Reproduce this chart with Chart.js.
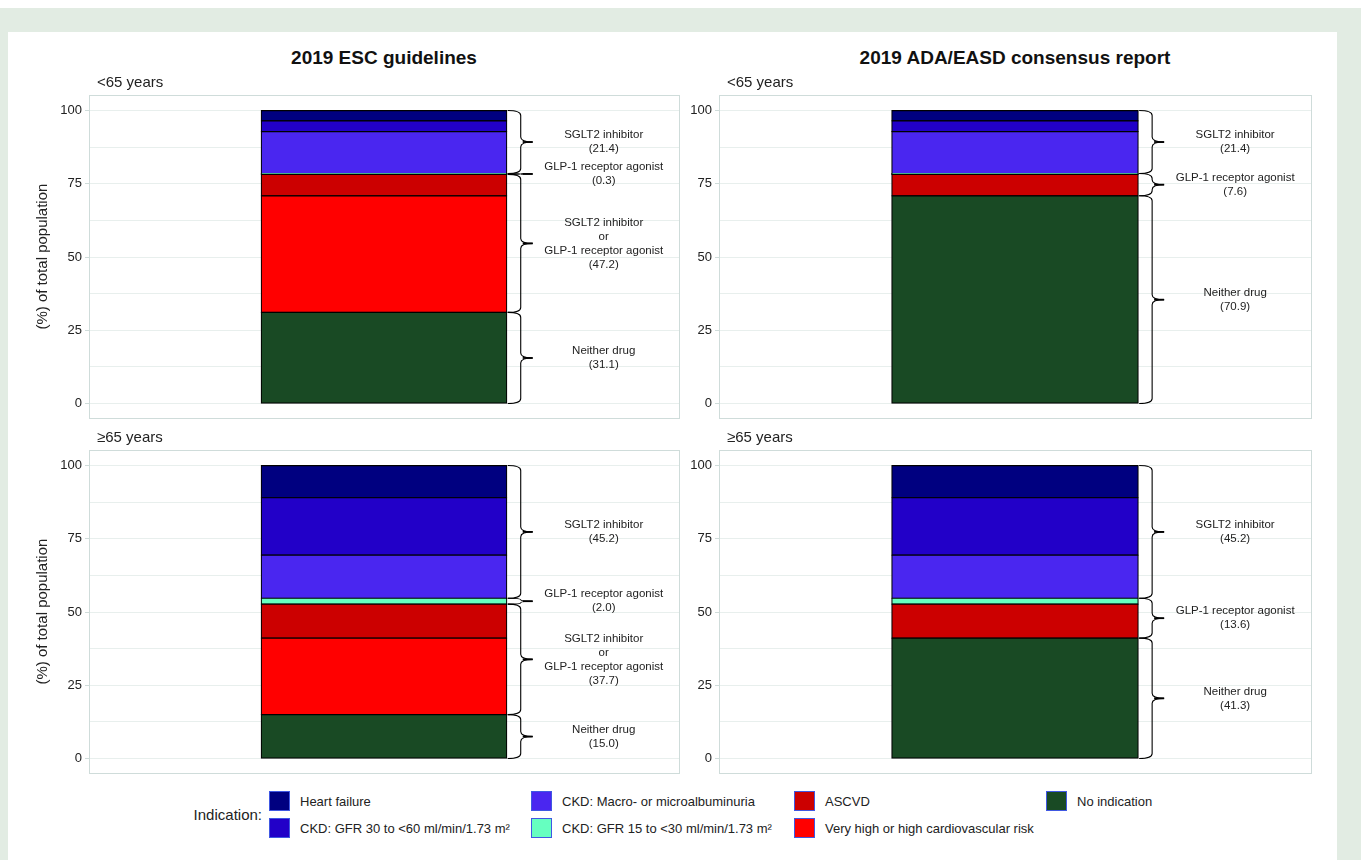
<!DOCTYPE html>
<html>
<head>
<meta charset="utf-8">
<script src="https://cdn.jsdelivr.net/npm/chart.js@4.4.1/dist/chart.umd.min.js"></script>
<style>
    body { margin: 0; width: 1361px; height: 860px; overflow: hidden; background: #fff; position: relative; font-family: "Liberation Sans", Arial, sans-serif; color: #222; }
    #frame { position: absolute; left: 0; top: 8px; width: 1361px; height: 852px; background: #e2ece3; }
    #card { position: absolute; left: 8px; top: 32px; width: 1329px; height: 828px; background: #fff; }
    canvas { position: absolute; }
    .main-title { position: absolute; top: 47px; width: 500px; text-align: center; font-weight: bold; font-size: 19px; color: #111; }
    .legend-head { position: absolute; left: 150px; top: 806px; width: 112px; text-align: right; font-size: 15px; }
    .legend-item { position: absolute; height: 21px; line-height: 21px; font-size: 13px; white-space: nowrap; }
    .legend-item span.sw { position: absolute; left: 0; top: 0; width: 19px; height: 18px; border: 1.5px solid rgb(64, 88, 226); }
    .legend-item span.tx { position: absolute; left: 31px; top: 0; }
</style>
</head>
<body>
<div id="frame"></div>
<div id="card"></div>

<div class="main-title" style="left:134px">2019 ESC guidelines</div>
<div class="main-title" style="left:765px">2019 ADA/EASD consensus report</div>

<canvas id="escYoung" width="660" height="369" style="left:30px;top:60px"></canvas>
<canvas id="adaYoung" width="662" height="369" style="left:679px;top:60px"></canvas>
<canvas id="escOld" width="660" height="369" style="left:30px;top:415px"></canvas>
<canvas id="adaOld" width="662" height="369" style="left:679px;top:415px"></canvas>

<div class="legend-head">Indication:</div>
<div id="legend"></div>

<script>
    // stack order, bottom to top
    var indications = [
        'No indication',
        'Very high or high cardiovascular risk',
        'ASCVD',
        'CKD: GFR 15 to <30 ml/min/1.73 m²',
        'CKD: Macro- or microalbuminuria',
        'CKD: GFR 30 to <60 ml/min/1.73 m²',
        'Heart failure'
    ];
    var colours = ['#194a24', '#ff0000', '#cc0000', '#66ffc0', '#4a26f0', '#2200c8', '#000080'];

    // % of total population per indication
    var escUnder65 = [31.1, 39.8, 7.3, 0.3, 14.3, 3.7, 3.5];
    var adaUnder65 = [70.9, 0, 7.3, 0.3, 14.3, 3.7, 3.5];
    var escOver65 = [15.0, 26.1, 11.6, 2.0, 14.7, 19.6, 11.0];
    var adaOver65 = [41.1, 0, 11.6, 2.0, 14.7, 19.6, 11.0];

    // which indications each drug bracket covers
    var escGroups = [[0], [1, 2], [3], [4, 5, 6]];
    var adaGroups = [[0, 1], [2, 3], [4, 5, 6]];

    var escUnder65Labels = [['Neither drug', '(31.1)'], ['SGLT2 inhibitor', 'or', 'GLP-1 receptor agonist', '(47.2)'], ['GLP-1 receptor agonist', '(0.3)'], ['SGLT2 inhibitor', '(21.4)']];
    var adaUnder65Labels = [['Neither drug', '(70.9)'], ['GLP-1 receptor agonist', '(7.6)'], ['SGLT2 inhibitor', '(21.4)']];
    var escOver65Labels = [['Neither drug', '(15.0)'], ['SGLT2 inhibitor', 'or', 'GLP-1 receptor agonist', '(37.7)'], ['GLP-1 receptor agonist', '(2.0)'], ['SGLT2 inhibitor', '(45.2)']];
    var adaOver65Labels = [['Neither drug', '(41.3)'], ['GLP-1 receptor agonist', '(13.6)'], ['SGLT2 inhibitor', '(45.2)']];

    var yTicks = [0, 12.5, 25, 37.5, 50, 62.5, 75, 87.5, 100];

    var borderColour = '#cfdcda';
    var gridColour = '#e8efed';

    function drawBrace(ctx, x0, yTop, yBot) {
        var spine = x0 + 13, tip = x0 + 25, ym = (yTop + yBot) / 2;
        var r = Math.min(5, (yBot - yTop) / 4);
        ctx.beginPath();
        ctx.moveTo(x0, yTop);
        ctx.quadraticCurveTo(spine, yTop, spine, yTop + r);
        ctx.lineTo(spine, ym - r);
        ctx.quadraticCurveTo(spine, ym, tip, ym);
        ctx.quadraticCurveTo(spine, ym, spine, ym + r);
        ctx.lineTo(spine, yBot - r);
        ctx.quadraticCurveTo(spine, yBot, x0, yBot);
        ctx.lineWidth = 1.1;
        ctx.strokeStyle = '#000';
        ctx.stroke();
        ctx.beginPath();
        ctx.moveTo(spine + 2, ym);
        ctx.lineTo(tip, ym);
        ctx.lineWidth = 1.8;
        ctx.stroke();
    }

    var panelDecor = {
        id: 'panelDecor',
        beforeDatasetsDraw: function(chart, args, opts) {
            var a = chart.chartArea, ctx = chart.ctx;
            ctx.save();
            ctx.strokeStyle = borderColour;
            ctx.lineWidth = 1;
            ctx.strokeRect(Math.round(a.left) + 0.5, Math.round(a.top) + 0.5, Math.round(a.right - a.left), Math.round(a.bottom - a.top));
            ctx.restore();
        },
        afterDatasetsDraw: function(chart, args, opts) {
            var a = chart.chartArea, ctx = chart.ctx, y = chart.scales.y;
            ctx.save();
            ctx.fillStyle = '#222';
            ctx.font = '15px "Liberation Sans", Arial, sans-serif';
            ctx.textAlign = 'left';
            ctx.textBaseline = 'middle';
            ctx.fillText(opts.subtitle, a.left + 8, a.top - 12);

            var bar = chart.getDatasetMeta(0).data[0];
            var right = bar.x + bar.width / 2;
            var values = chart.data.datasets.map(function(d) { return d.data[0]; });
            ctx.font = '11.5px "Liberation Sans", Arial, sans-serif';
            ctx.textAlign = 'center';
            opts.groups.forEach(function(g, gi) {
                var start = 0, end;
                for (var i = 0; i < g[0]; i++) start += values[i];
                end = start;
                g.forEach(function(k) { end += values[k]; });
                var yTop = y.getPixelForValue(end), yBot = y.getPixelForValue(start);
                drawBrace(ctx, right + 1, yTop, yBot);
                var lines = opts.labels[gi];
                var ym = (yTop + yBot) / 2;
                lines.forEach(function(t, li) {
                    ctx.fillText(t, right + 97, ym + (li - (lines.length - 1) / 2) * 14);
                });
            });
            ctx.restore();
        }
    };

    function makeChart(id, values, groups, labels, subtitle, axisWidth, rightPad, showTitle) {
        var datasets = indications.map(function(name, i) {
            return {
                label: name,
                data: [values[i]],
                backgroundColor: colours[i],
                borderColor: '#000',
                borderWidth: 1.2,
                borderSkipped: false,
                inflateAmount: 0.6,
                categoryPercentage: 1,
                barPercentage: 0.416
            };
        });
        return new Chart(document.getElementById(id).getContext('2d'), {
            type: 'bar',
            data: { labels: [''], datasets: datasets },
            plugins: [panelDecor],
            options: {
                responsive: false,
                animation: false,
                layout: { padding: { top: 35, right: rightPad, bottom: 7, left: 0 } },
                plugins: {
                    legend: { display: false },
                    tooltip: { enabled: true },
                    panelDecor: { subtitle: subtitle, groups: groups, labels: labels }
                },
                scales: {
                    x: {
                        stacked: true,
                        ticks: { display: false },
                        grid: { color: gridColour, drawTicks: false },
                        border: { display: false },
                        afterFit: function(s) { s.height = 0; }
                    },
                    y: {
                        stacked: true,
                        min: -5,
                        max: 105.3,
                        afterBuildTicks: function(axis) {
                            axis.ticks = yTicks.map(function(v) { return { value: v }; });
                        },
                        afterFit: function(s) { s.width = axisWidth; },
                        ticks: {
                            padding: 3,
                            color: '#222',
                            font: { family: '"Liberation Sans", Arial, sans-serif', size: 13 },
                            callback: function(v) { return v % 25 === 0 ? v : ''; }
                        },
                        grid: {
                            color: gridColour,
                            tickLength: 4,
                            tickColor: function(c) { return c.tick && c.tick.value % 25 === 0 ? borderColour : 'rgba(0,0,0,0)'; }
                        },
                        border: { display: false },
                        title: {
                            display: showTitle,
                            text: '(%) of total population',
                            color: '#222',
                            font: { family: '"Liberation Sans", Arial, sans-serif', size: 15 }
                        }
                    }
                }
            }
        });
    }

    makeChart('escYoung', escUnder65, escGroups, escUnder65Labels, '<65 years', 59, 11, true);
    makeChart('adaYoung', adaUnder65, adaGroups, adaUnder65Labels, '<65 years', 40, 30, false);
    makeChart('escOld', escOver65, escGroups, escOver65Labels, '≥65 years', 59, 11, true);
    makeChart('adaOld', adaOver65, adaGroups, adaOver65Labels, '≥65 years', 40, 30, false);

    // legend: top to bottom of the stack, filled column by column, two rows
    var legendCols = [269, 531, 794, 1046];
    var legendRows = [791, 818];
    var legend = document.getElementById('legend');
    for (var n = 0; n < indications.length; n++) {
        var idx = indications.length - 1 - n;
        var item = document.createElement('div');
        item.className = 'legend-item';
        item.style.left = legendCols[Math.floor(n / 2)] + 'px';
        item.style.top = legendRows[n % 2] + 'px';
        var sw = document.createElement('span');
        sw.className = 'sw';
        sw.style.background = colours[idx];
        var tx = document.createElement('span');
        tx.className = 'tx';
        tx.textContent = indications[idx];
        item.appendChild(sw);
        item.appendChild(tx);
        legend.appendChild(item);
    }
</script>
</body>
</html>
